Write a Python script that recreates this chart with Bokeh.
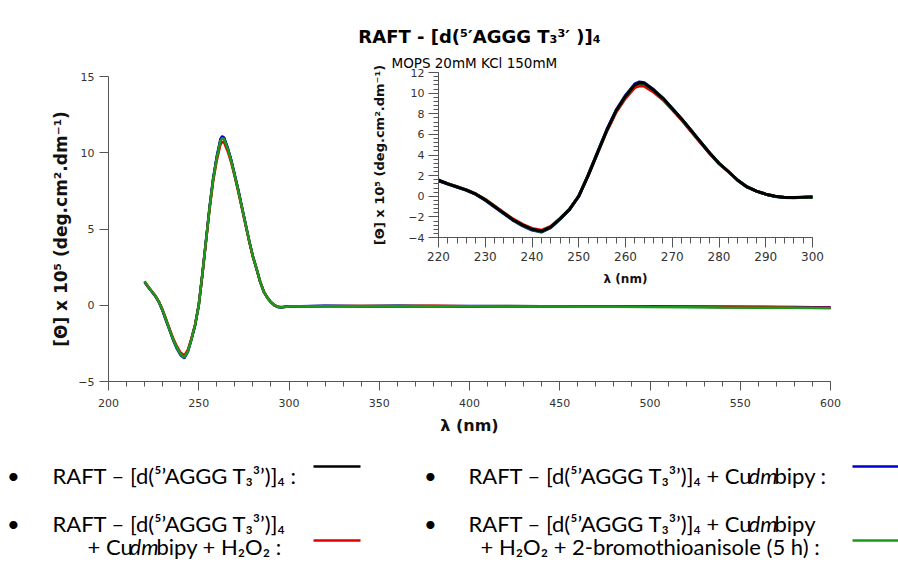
from bokeh.plotting import figure
from bokeh.models import (Range1d, LinearAxis, SingleIntervalTicker, Label, Arrow,
                          ColumnDataSource)
from bokeh.embed import file_html
from bokeh.resources import INLINE

# ---------------- data ----------------
wavelength = [220, 222, 224, 226, 228, 230, 232, 234, 236, 238, 240, 242, 244, 246, 248,
              250, 252, 254, 256, 258, 260, 262, 263, 264, 266, 268, 270, 272, 274, 276,
              278, 280, 282, 284, 286, 288, 290, 292, 294, 296, 298, 300,
              320, 340, 360, 380, 400, 420, 440, 460, 480, 500, 520, 540, 560, 580, 600]

theta_black = [1.55, 1.2, 0.9, 0.6, 0.2, -0.35, -1.0, -1.65, -2.3, -2.8, -3.2, -3.4, -3.0, -2.2, -1.3,
               0.0, 2.0, 4.2, 6.4, 8.3, 9.7, 10.8, 11.0, 10.95, 10.3, 9.5, 8.5, 7.5, 6.4, 5.3,
               4.2, 3.2, 2.4, 1.55, 0.9, 0.5, 0.2, 0.0, -0.12, -0.13, -0.1, -0.08,
               -0.05, -0.05, -0.04, -0.05, -0.06, -0.05, -0.07, -0.08, -0.09, -0.08, -0.1, -0.1, -0.12, -0.12, -0.15]

theta_blue = [1.5, 1.18, 0.88, 0.58, 0.18, -0.38, -1.05, -1.7, -2.35, -2.88, -3.28, -3.48, -3.05, -2.22, -1.3,
              0.02, 2.05, 4.25, 6.45, 8.35, 9.78, 10.9, 11.08, 11.0, 10.35, 9.52, 8.52, 7.5, 6.4, 5.3,
              4.2, 3.2, 2.4, 1.55, 0.9, 0.5, 0.2, -0.02, -0.12, -0.14, -0.1, -0.08,
              -0.04, -0.06, -0.05, -0.06, -0.05, -0.07, -0.06, -0.08, -0.1, -0.09, -0.1, -0.11, -0.12, -0.13, -0.14]

theta_red = [1.52, 1.22, 0.92, 0.62, 0.22, -0.3, -0.95, -1.6, -2.22, -2.72, -3.12, -3.3, -2.92, -2.15, -1.25,
             0.02, 2.0, 4.15, 6.3, 8.15, 9.5, 10.55, 10.7, 10.68, 10.1, 9.35, 8.4, 7.4, 6.3, 5.22,
             4.15, 3.15, 2.38, 1.55, 0.9, 0.5, 0.2, 0.0, -0.1, -0.12, -0.1, -0.07,
             -0.06, -0.05, -0.06, -0.04, -0.06, -0.07, -0.06, -0.07, -0.09, -0.1, -0.09, -0.11, -0.11, -0.14, -0.16]

theta_green = [1.58, 1.22, 0.9, 0.6, 0.2, -0.34, -1.0, -1.66, -2.3, -2.82, -3.22, -3.44, -3.02, -2.2, -1.28,
               0.0, 2.02, 4.2, 6.38, 8.28, 9.68, 10.78, 10.95, 10.9, 10.28, 9.48, 8.48, 7.48, 6.38, 5.3,
               4.2, 3.2, 2.4, 1.55, 0.9, 0.5, 0.2, 0.0, -0.12, -0.13, -0.11, -0.09,
               -0.07, -0.06, -0.06, -0.07, -0.06, -0.08, -0.09, -0.1, -0.1, -0.12, -0.13, -0.15, -0.16, -0.17, -0.2]

series_colors = {"black": "#000000", "blue": "#0000cc", "red": "#e00000", "green": "#1a9a1a"}

main_title = "RAFT - [d(⁵′AGGG T₃³′ )]₄"
inset_title = "MOPS 20mM KCl 150mM"
y_label = "[Θ] x 10⁵ (deg.cm².dm⁻¹)"
x_label = "λ (nm)"

main_x_ticks = (200, 600, 50)
main_y_ticks = (-5, 15, 5)
inset_x_ticks = (220, 300, 10)
inset_y_ticks = (-4, 12, 2)

# ---------------- geometry (canvas pixels) ----------------
W, H = 898, 562
MAIN_X_PX = (108, 830)     # 200 -> 108, 600 -> 830
MAIN_Y_PX = (381, 76)      # -5 -> 381, 15 -> 76
IN_X_PX = (438, 812)       # 220 -> 438, 300 -> 812
IN_Y_PX = (237, 72)        # -4 -> 237, 12 -> 72


def lin(v0, p0, v1, p1, p):
    return v0 + (p - p0) * (v1 - v0) / (p1 - p0)


def rng(ticks, px, p_start, p_end):
    return Range1d(lin(ticks[0], px[0], ticks[1], px[1], p_start),
                   lin(ticks[0], px[0], ticks[1], px[1], p_end))


p = figure(width=W, height=H,
           x_range=rng(main_x_ticks, MAIN_X_PX, 0, W),
           y_range=rng(main_y_ticks, MAIN_Y_PX, H, 0),
           x_axis_type=None, y_axis_type=None,
           output_backend="svg", toolbar_location=None,
           min_border=0, min_border_left=0, min_border_right=0,
           min_border_top=0, min_border_bottom=0)
p.outline_line_color = None
p.background_fill_color = "white"
p.border_fill_color = "white"

p.extra_x_ranges = {"ix": rng(inset_x_ticks, IN_X_PX, 0, W)}
p.extra_y_ranges = {"iy": rng(inset_y_ticks, IN_Y_PX, H, 0)}

AX = "#555555"
TK = "#333333"


def style_axis(ax, tick_size, label_size, major_out, minor_out, std, lstd):
    ax.axis_line_color = AX
    ax.major_tick_line_color = AX
    ax.minor_tick_line_color = AX
    ax.major_tick_in = 0
    ax.minor_tick_in = 0
    ax.major_tick_out = major_out
    ax.minor_tick_out = minor_out
    ax.major_label_text_font = "DejaVu Sans"
    ax.major_label_text_font_size = f"{tick_size}px"
    ax.major_label_text_color = TK
    ax.major_label_standoff = std
    ax.axis_label_text_font = "DejaVu Sans"
    ax.axis_label_text_font_style = "bold"
    ax.axis_label_text_font_size = f"{label_size}px"
    ax.axis_label_text_color = "#111111"
    ax.axis_label_standoff = lstd


# main axes (drawn at fixed positions inside the full-canvas frame)
xa = LinearAxis(fixed_location=main_y_ticks[0],
                ticker=SingleIntervalTicker(interval=main_x_ticks[2], num_minor_ticks=5),
                bounds=(main_x_ticks[0], main_x_ticks[1]), axis_label=x_label)
style_axis(xa, 11, 16, 9, 5, 8, 6)
p.add_layout(xa, "below")
ya = LinearAxis(fixed_location=main_x_ticks[0],
                ticker=SingleIntervalTicker(interval=main_y_ticks[2], num_minor_ticks=0),
                bounds=(main_y_ticks[0], main_y_ticks[1]), axis_label=y_label)
style_axis(ya, 11, 17, 9, 0, 5, 4)
p.add_layout(ya, "left")

# inset axes
ixa = LinearAxis(x_range_name="ix", y_range_name="iy", fixed_location=inset_y_ticks[0],
                 bounds=(inset_x_ticks[0], inset_x_ticks[1]), axis_label=x_label,
                 ticker=SingleIntervalTicker(interval=inset_x_ticks[2], num_minor_ticks=5))
style_axis(ixa, 12, 12, 10, 6, 4, 8)
p.add_layout(ixa, "below")
iya = LinearAxis(x_range_name="ix", y_range_name="iy", fixed_location=inset_x_ticks[0],
                 bounds=(inset_y_ticks[0], inset_y_ticks[1]), axis_label=y_label,
                 ticker=SingleIntervalTicker(interval=inset_y_ticks[2], num_minor_ticks=5))
style_axis(iya, 11, 13, 10, 5, 4, 18)
p.add_layout(iya, "left")

# ---------------- curves ----------------
src = ColumnDataSource(dict(wl=wavelength, black=theta_black, blue=theta_blue,
                            red=theta_red, green=theta_green))
for name in ["black", "blue", "red", "green"]:
    p.line("wl", name, source=src, line_color=series_colors[name], line_width=2.5)

keep = [i for i, w in enumerate(wavelength) if w <= inset_x_ticks[1]]
isrc = ColumnDataSource(dict(wl=[wavelength[i] for i in keep],
                             black=[theta_black[i] for i in keep],
                             blue=[theta_blue[i] for i in keep],
                             red=[theta_red[i] for i in keep],
                             green=[theta_green[i] for i in keep]))
for name in ["red", "blue", "green", "black"]:
    p.line("wl", name, source=isrc, line_color=series_colors[name], line_width=3,
           x_range_name="ix", y_range_name="iy")


# ---------------- texts ----------------
def lab(text, X, Y, size, font="DejaVu Sans", style="normal", align="left", color="#000000"):
    p.add_layout(Label(x=X, y=H - Y, x_units="screen", y_units="screen", text=text,
                       text_font=font, text_font_size=f"{size}px", text_font_style=style,
                       text_align=align, text_baseline="alphabetic", text_color=color))


lab(main_title, 479, 36, 18, style="bold", align="center")
lab(inset_title, 391, 62, 13.5)

LF = "Lato"
LS = 22
R1, R2A, R2B = 475, 523, 546
# left column
lab("•", 13, R1, LS, font=LF, align="center")
lab("RAFT – [d(⁵’AGGG T₃³’)]₄ :", 52, R1, LS, font=LF)
lab("•", 13, R2A, LS, font=LF, align="center")
lab("RAFT – [d(⁵’AGGG T₃³’)]₄", 52, R2A, LS, font=LF)
lab("+ Cu", 87, R2B, LS, font=LF)
lab("dm", 129, R2B, LS, font=LF, style="italic")
lab("bipy + H₂O₂ :", 156, R2B, LS, font=LF)
# right column
lab("•", 430, R1, LS, font=LF, align="center")
lab("RAFT – [d(⁵’AGGG T₃³’)]₄ + Cu", 468, R1, LS, font=LF)
lab("dm", 748, R1, LS, font=LF, style="italic")
lab("bipy :", 774, R1, LS, font=LF)
lab("•", 430, R2A, LS, font=LF, align="center")
lab("RAFT – [d(⁵’AGGG T₃³’)]₄ + Cu", 468, R2A, LS, font=LF)
lab("dm", 748, R2A, LS, font=LF, style="italic")
lab("bipy", 774, R2A, LS, font=LF)
lab("+ H₂O₂ + 2-bromothioanisole (5 h) :", 480, R2B, LS, font=LF)


def sample(x0, x1, Y, color):
    p.add_layout(Arrow(start=None, end=None, x_start=x0, x_end=x1,
                       y_start=H - Y, y_end=H - Y, start_units="screen", end_units="screen",
                       line_color=color, line_width=2.5))


sample(313, 360, 466, series_colors["black"])
sample(852, 898, 466, series_colors["blue"])
sample(313, 360, 540, series_colors["red"])
sample(852, 898, 540, series_colors["green"])

open("out.html", "w").write(file_html(p, INLINE))
